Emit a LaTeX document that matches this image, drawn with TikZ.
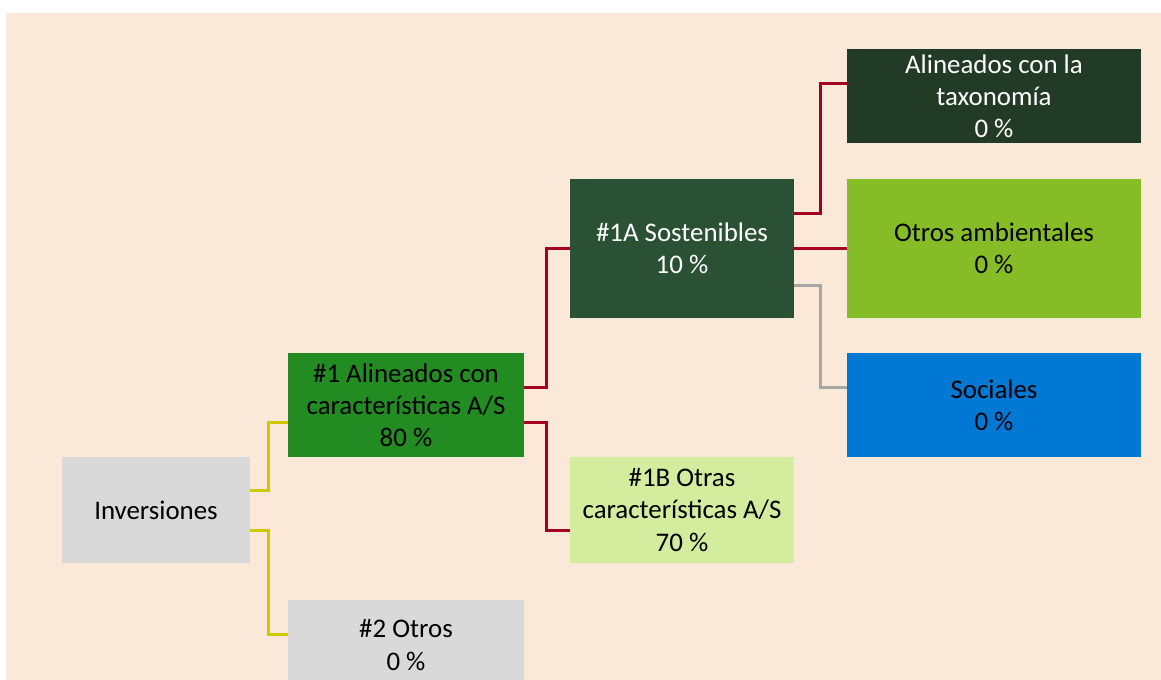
\documentclass[tikz,border=0pt]{standalone}
\usepackage{fontspec}
\setmainfont{Carlito}

\newcommand{\px}{0.02cm}

\definecolor{bgpeach}{HTML}{FAE8D8}
\definecolor{boxgrey}{HTML}{D9D9D9}
\definecolor{alingreen}{HTML}{228B22}
\definecolor{sostgreen}{HTML}{2B5134}
\definecolor{otraslight}{HTML}{D3EC9E}
\definecolor{taxdark}{HTML}{223B26}
\definecolor{ambgreen}{HTML}{86BC25}
\definecolor{socblue}{HTML}{0078D4}
\definecolor{linkred}{HTML}{A50021}
\definecolor{linkyellow}{HTML}{D0C800}
\definecolor{linkgrey}{HTML}{A6A6A6}

\begin{document}
\begin{tikzpicture}[x=\px, y=-\px, font=\fontsize{15.3}{18.3}\selectfont,
    box/.style={inner sep=0pt, align=center},
    link/.style={line width=3*\px}]
    % Frame.
    \useasboundingbox (0,0) rectangle (1161,680);
    \clip (0,0) rectangle (1161,680);
    \fill [bgpeach] (6,13) rectangle (1161,680);

    % First level.
    \node [box, fill=boxgrey, minimum width=188*\px, minimum height=106*\px] (inv) at (156,510) {Inversiones};

    % Second level.
    \node [box, fill=alingreen, minimum width=236*\px, minimum height=104*\px] (alin) at (406,405) {\#1 Alineados con\\caracter\'isticas A/S\\80 \%};
    \node [box, fill=boxgrey, minimum width=236*\px, minimum height=90*\px] (otros) at (406,645) {\#2 Otros\\0 \%};

    % Third level.
    \node [box, fill=sostgreen, text=white, minimum width=224*\px, minimum height=139*\px] (sost) at (682,248.5) {\#1A Sostenibles\\10 \%};
    \node [box, fill=otraslight, minimum width=224*\px, minimum height=106*\px] (otras) at (682,510) {\#1B Otras\\caracter\'isticas A/S\\70 \%};

    % Fourth level.
    \node [box, fill=taxdark, text=white, minimum width=294*\px, minimum height=94*\px] (tax) at (994,96) {Alineados con la\\taxonom\'ia\\0 \%};
    \node [box, fill=ambgreen, minimum width=294*\px, minimum height=139*\px] (amb) at (994,248.5) {Otros ambientales\\0 \%};
    \node [box, fill=socblue, minimum width=294*\px, minimum height=104*\px] (soc) at (994,405) {Sociales\\0 \%};

    % Links from the investments.
    \draw [link, linkyellow] (inv.east |- 0,490) -- ++(18,0) |- (alin.west |- 0,422);
    \draw [link, linkyellow] (inv.east |- 0,530) -- ++(18,0) |- (otros.west |- 0,634);

    % Links from #1.
    \draw [link, linkred] (alin.east |- 0,387) -- ++(22,0) |- (sost.west);
    \draw [link, linkred] (alin.east |- 0,422) -- ++(22,0) |- (otras.west |- 0,530);

    % Links from #1A.
    \draw [link, linkred] (sost.east |- 0,213) -- ++(26,0) |- (tax.west |- 0,83);
    \draw [link, linkred] (sost.east) -- (amb.west);
    \draw [link, linkgrey] (sost.east |- 0,285) -- ++(26,0) |- (soc.west |- 0,387);
\end{tikzpicture}
\end{document}
